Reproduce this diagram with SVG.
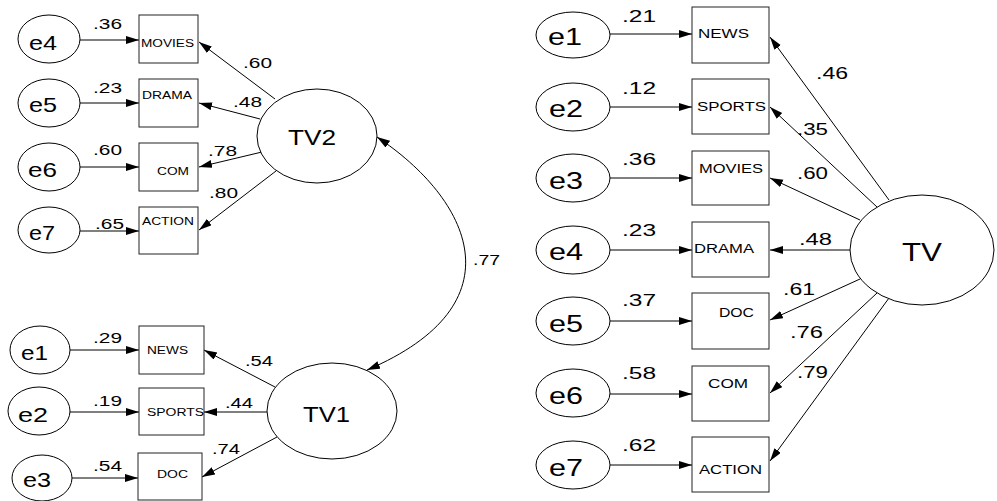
<svg xmlns="http://www.w3.org/2000/svg" width="997" height="501" viewBox="0 0 997 501">
<style>
  .bg{fill:#fff}
  .el{fill:#fff;stroke:#000;stroke-width:1}
  .bx{fill:#fff;stroke:#222;stroke-width:1}
  .ln{fill:none;stroke:#000;stroke-width:1}
  text{font-family:"Liberation Sans",Arial,sans-serif;fill:#000}
  .eL{font-size:21px}
  .eR{font-size:24px}
  .nL{font-size:15px}
  .nR{font-size:16px}
  .bL{font-size:10px}
  .bR{font-size:12px}
  .lv{font-size:22px}
  .lvR{font-size:25px}
</style>
<defs>
  <marker id="ah" markerUnits="userSpaceOnUse" markerWidth="14" markerHeight="9" viewBox="0 0 14 9" refX="13" refY="4" orient="auto-start-reverse">
    <path d="M0,0 L13,4 L0,8 z" fill="#000"/>
  </marker>
</defs>
<rect class="bg" x="0" y="0" width="997" height="501"/>

<g id="connectors">
  <!-- left top: errors to indicators -->
  <line class="ln" x1="80" y1="40" x2="139" y2="40" marker-end="url(#ah)"/>
  <line class="ln" x1="80" y1="103" x2="139" y2="103" marker-end="url(#ah)"/>
  <line class="ln" x1="80" y1="167" x2="139" y2="167" marker-end="url(#ah)"/>
  <line class="ln" x1="80" y1="231" x2="139" y2="231" marker-end="url(#ah)"/>
  <!-- TV2 loadings -->
  <line class="ln" x1="275" y1="99" x2="199" y2="42" marker-end="url(#ah)"/>
  <line class="ln" x1="260" y1="119" x2="199" y2="103" marker-end="url(#ah)"/>
  <line class="ln" x1="262" y1="152" x2="199" y2="167" marker-end="url(#ah)"/>
  <line class="ln" x1="276" y1="171" x2="199" y2="230" marker-end="url(#ah)"/>
  <!-- left bottom errors -->
  <line class="ln" x1="70" y1="350" x2="139" y2="350" marker-end="url(#ah)"/>
  <line class="ln" x1="70" y1="412" x2="139" y2="412" marker-end="url(#ah)"/>
  <line class="ln" x1="72" y1="478" x2="138" y2="478" marker-end="url(#ah)"/>
  <!-- TV1 loadings -->
  <line class="ln" x1="275" y1="387" x2="204" y2="350" marker-end="url(#ah)"/>
  <line class="ln" x1="267" y1="412" x2="204" y2="412" marker-end="url(#ah)"/>
  <line class="ln" x1="277" y1="437" x2="202" y2="477" marker-end="url(#ah)"/>
  <!-- covariance -->
  <path class="ln" d="M377,137 C470,199 522,304 367,370" marker-start="url(#ah)" marker-end="url(#ah)"/>
  <!-- right errors -->
  <line class="ln" x1="610" y1="34" x2="692" y2="34" marker-end="url(#ah)"/>
  <line class="ln" x1="610" y1="107" x2="692" y2="107" marker-end="url(#ah)"/>
  <line class="ln" x1="610" y1="178" x2="692" y2="178" marker-end="url(#ah)"/>
  <line class="ln" x1="610" y1="250" x2="692" y2="250" marker-end="url(#ah)"/>
  <line class="ln" x1="610" y1="321" x2="692" y2="321" marker-end="url(#ah)"/>
  <line class="ln" x1="610" y1="394" x2="692" y2="394" marker-end="url(#ah)"/>
  <line class="ln" x1="610" y1="465" x2="692" y2="465" marker-end="url(#ah)"/>
  <!-- TV loadings -->
  <line class="ln" x1="889" y1="200" x2="770" y2="37" marker-end="url(#ah)"/>
  <line class="ln" x1="877" y1="207" x2="770" y2="107" marker-end="url(#ah)"/>
  <line class="ln" x1="860" y1="220" x2="770" y2="178" marker-end="url(#ah)"/>
  <line class="ln" x1="850" y1="250" x2="770" y2="250" marker-end="url(#ah)"/>
  <line class="ln" x1="860" y1="279" x2="770" y2="320" marker-end="url(#ah)"/>
  <line class="ln" x1="877" y1="293" x2="770" y2="393" marker-end="url(#ah)"/>
  <line class="ln" x1="889" y1="298" x2="770" y2="461" marker-end="url(#ah)"/>
</g>

<g id="connector-labels">
  <text class="nL" x="93" y="29" textLength="29" lengthAdjust="spacingAndGlyphs">.36</text>
  <text class="nL" x="93" y="93" textLength="29" lengthAdjust="spacingAndGlyphs">.23</text>
  <text class="nL" x="93" y="155" textLength="29" lengthAdjust="spacingAndGlyphs">.60</text>
  <text class="nL" x="95" y="229" textLength="29" lengthAdjust="spacingAndGlyphs">.65</text>
  <text class="nL" x="243" y="68" textLength="29" lengthAdjust="spacingAndGlyphs">.60</text>
  <text class="nL" x="233" y="107" textLength="29" lengthAdjust="spacingAndGlyphs">.48</text>
  <text class="nL" x="208" y="156" textLength="29" lengthAdjust="spacingAndGlyphs">.78</text>
  <text class="nL" x="209" y="198" textLength="29" lengthAdjust="spacingAndGlyphs">.80</text>
  <text class="nL" x="93" y="343" textLength="29" lengthAdjust="spacingAndGlyphs">.29</text>
  <text class="nL" x="93" y="406" textLength="29" lengthAdjust="spacingAndGlyphs">.19</text>
  <text class="nL" x="93" y="471" textLength="29" lengthAdjust="spacingAndGlyphs">.54</text>
  <text class="nL" x="245" y="366" textLength="28" lengthAdjust="spacingAndGlyphs">.54</text>
  <text class="nL" x="225" y="408" textLength="28" lengthAdjust="spacingAndGlyphs">.44</text>
  <text class="nL" x="212" y="454" textLength="28" lengthAdjust="spacingAndGlyphs">.74</text>
  <text class="nL" x="473" y="265" textLength="27" lengthAdjust="spacingAndGlyphs">.77</text>
  <text class="nR" x="622" y="22" textLength="34" lengthAdjust="spacingAndGlyphs">.21</text>
  <text class="nR" x="622" y="94" textLength="34" lengthAdjust="spacingAndGlyphs">.12</text>
  <text class="nR" x="622" y="165" textLength="34" lengthAdjust="spacingAndGlyphs">.36</text>
  <text class="nR" x="622" y="236" textLength="34" lengthAdjust="spacingAndGlyphs">.23</text>
  <text class="nR" x="622" y="306" textLength="34" lengthAdjust="spacingAndGlyphs">.37</text>
  <text class="nR" x="622" y="379" textLength="34" lengthAdjust="spacingAndGlyphs">.58</text>
  <text class="nR" x="622" y="451" textLength="34" lengthAdjust="spacingAndGlyphs">.62</text>
  <text class="nR" x="816" y="79" textLength="32" lengthAdjust="spacingAndGlyphs">.46</text>
  <text class="nR" x="797" y="135" textLength="31" lengthAdjust="spacingAndGlyphs">.35</text>
  <text class="nR" x="797" y="179" textLength="31" lengthAdjust="spacingAndGlyphs">.60</text>
  <text class="nR" x="799" y="245" textLength="33" lengthAdjust="spacingAndGlyphs">.48</text>
  <text class="nR" x="783" y="295" textLength="32" lengthAdjust="spacingAndGlyphs">.61</text>
  <text class="nR" x="790" y="338" textLength="33" lengthAdjust="spacingAndGlyphs">.76</text>
  <text class="nR" x="797" y="378" textLength="31" lengthAdjust="spacingAndGlyphs">.79</text>
</g>

<!-- Left model, TV2 block -->
<g id="L-e4"><ellipse class="el" cx="49" cy="39" rx="31" ry="24"/><text class="eL" x="29" y="50" textLength="28" lengthAdjust="spacingAndGlyphs">e4</text></g>
<g id="L-e5"><ellipse class="el" cx="49" cy="103" rx="31" ry="24"/><text class="eL" x="29" y="112" textLength="28" lengthAdjust="spacingAndGlyphs">e5</text></g>
<g id="L-e6"><ellipse class="el" cx="49" cy="167" rx="31" ry="24"/><text class="eL" x="28" y="177" textLength="29" lengthAdjust="spacingAndGlyphs">e6</text></g>
<g id="L-e7"><ellipse class="el" cx="49" cy="230" rx="31" ry="23"/><text class="eL" x="29" y="240" textLength="26" lengthAdjust="spacingAndGlyphs">e7</text></g>
<g id="L-MOVIES"><rect class="bx" x="139" y="15" width="59" height="48"/><text class="bL" x="141" y="47" textLength="53" lengthAdjust="spacingAndGlyphs">MOVIES</text></g>
<g id="L-DRAMA"><rect class="bx" x="139" y="79" width="59" height="48"/><text class="bL" x="142" y="99" textLength="50" lengthAdjust="spacingAndGlyphs">DRAMA</text></g>
<g id="L-COM"><rect class="bx" x="139" y="143" width="59" height="48"/><text class="bL" x="157" y="175" textLength="32" lengthAdjust="spacingAndGlyphs">COM</text></g>
<g id="L-ACTION"><rect class="bx" x="139" y="207" width="59" height="47"/><text class="bL" x="142" y="225" textLength="52" lengthAdjust="spacingAndGlyphs">ACTION</text></g>
<g id="L-TV2"><ellipse class="el" cx="317" cy="136" rx="60" ry="47"/><text class="lv" x="288" y="145" textLength="48" lengthAdjust="spacingAndGlyphs">TV2</text></g>

<!-- Left model, TV1 block -->
<g id="L-e1"><ellipse class="el" cx="40" cy="350" rx="30" ry="24"/><text class="eL" x="21" y="360" textLength="27" lengthAdjust="spacingAndGlyphs">e1</text></g>
<g id="L-e2"><ellipse class="el" cx="39" cy="411" rx="31" ry="24"/><text class="eL" x="18" y="422" textLength="30" lengthAdjust="spacingAndGlyphs">e2</text></g>
<g id="L-e3"><ellipse class="el" cx="42" cy="478" rx="30" ry="23"/><text class="eL" x="23" y="487" textLength="28" lengthAdjust="spacingAndGlyphs">e3</text></g>
<g id="L-NEWS"><rect class="bx" x="139" y="326" width="65" height="48"/><text class="bL" x="147" y="354" textLength="41" lengthAdjust="spacingAndGlyphs">NEWS</text></g>
<g id="L-SPORTS"><rect class="bx" x="139" y="388" width="65" height="47"/><text class="bL" x="147" y="416" textLength="57" lengthAdjust="spacingAndGlyphs">SPORTS</text></g>
<g id="L-DOC"><rect class="bx" x="138" y="453" width="64" height="47"/><text class="bL" x="157" y="478" textLength="31" lengthAdjust="spacingAndGlyphs">DOC</text></g>
<g id="L-TV1"><ellipse class="el" cx="332" cy="411" rx="65" ry="48"/><text class="lv" x="303" y="422" textLength="47" lengthAdjust="spacingAndGlyphs">TV1</text></g>

<!-- Right model -->
<g id="R-e1"><ellipse class="el" cx="573" cy="35" rx="37" ry="23"/><text class="eR" x="548" y="45" textLength="34" lengthAdjust="spacingAndGlyphs">e1</text></g>
<g id="R-e2"><ellipse class="el" cx="573" cy="107" rx="37" ry="24"/><text class="eR" x="549" y="117" textLength="34" lengthAdjust="spacingAndGlyphs">e2</text></g>
<g id="R-e3"><ellipse class="el" cx="573" cy="178" rx="37" ry="24"/><text class="eR" x="549" y="189" textLength="34" lengthAdjust="spacingAndGlyphs">e3</text></g>
<g id="R-e4"><ellipse class="el" cx="573" cy="250" rx="37" ry="24"/><text class="eR" x="549" y="260" textLength="34" lengthAdjust="spacingAndGlyphs">e4</text></g>
<g id="R-e5"><ellipse class="el" cx="573" cy="321" rx="37" ry="24"/><text class="eR" x="549" y="332" textLength="34" lengthAdjust="spacingAndGlyphs">e5</text></g>
<g id="R-e6"><ellipse class="el" cx="573" cy="393" rx="37" ry="24"/><text class="eR" x="549" y="404" textLength="34" lengthAdjust="spacingAndGlyphs">e6</text></g>
<g id="R-e7"><ellipse class="el" cx="573" cy="465" rx="37" ry="24"/><text class="eR" x="549" y="476" textLength="34" lengthAdjust="spacingAndGlyphs">e7</text></g>
<g id="R-NEWS"><rect class="bx" x="692" y="7" width="77" height="56"/><text class="bR" x="698" y="38" textLength="51" lengthAdjust="spacingAndGlyphs">NEWS</text></g>
<g id="R-SPORTS"><rect class="bx" x="692" y="79" width="77" height="55"/><text class="bR" x="697" y="111" textLength="69" lengthAdjust="spacingAndGlyphs">SPORTS</text></g>
<g id="R-MOVIES"><rect class="bx" x="692" y="151" width="77" height="54"/><text class="bR" x="699" y="173" textLength="64" lengthAdjust="spacingAndGlyphs">MOVIES</text></g>
<g id="R-DRAMA"><rect class="bx" x="692" y="222" width="77" height="55"/><text class="bR" x="694" y="253" textLength="60" lengthAdjust="spacingAndGlyphs">DRAMA</text></g>
<g id="R-DOC"><rect class="bx" x="692" y="293" width="77" height="56"/><text class="bR" x="719" y="317" textLength="35" lengthAdjust="spacingAndGlyphs">DOC</text></g>
<g id="R-COM"><rect class="bx" x="692" y="366" width="77" height="55"/><text class="bR" x="708" y="388" textLength="40" lengthAdjust="spacingAndGlyphs">COM</text></g>
<g id="R-ACTION"><rect class="bx" x="692" y="437" width="77" height="55"/><text class="bR" x="699" y="474" textLength="63" lengthAdjust="spacingAndGlyphs">ACTION</text></g>
<g id="R-TV"><ellipse class="el" cx="922" cy="250" rx="72" ry="55"/><text class="lvR" x="902" y="261" textLength="40" lengthAdjust="spacingAndGlyphs">TV</text></g>
</svg>
